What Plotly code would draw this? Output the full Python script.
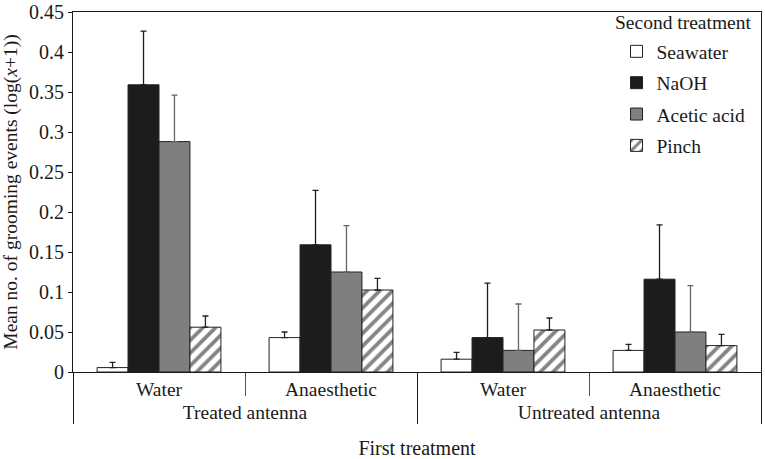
import plotly.graph_objects as go

# First treatment (two-level categories)
antenna = ["Treated antenna", "Treated antenna", "Untreated antenna", "Untreated antenna"]
first_treatment = ["Water", "Anaesthetic", "Water", "Anaesthetic"]

# Mean grooming events (log(x+1)) and top of the error bar for each second treatment
seawater = [0.0055, 0.043, 0.016, 0.027]
seawater_top = [0.012, 0.050, 0.0245, 0.0345]
naoh = [0.359, 0.159, 0.043, 0.116]
naoh_top = [0.426, 0.227, 0.111, 0.184]
acetic = [0.288, 0.125, 0.027, 0.050]
acetic_top = [0.346, 0.183, 0.085, 0.108]
pinch = [0.056, 0.1025, 0.0525, 0.033]
pinch_top = [0.070, 0.117, 0.0675, 0.047]

FONT = "Liberation Serif"
OUTLINE = "#222222"

series = [
    ("Seawater", seawater, seawater_top, "white", None, "#222222"),
    ("NaOH", naoh, naoh_top, "#1c1c1c", None, "#1c1c1c"),
    ("Acetic acid", acetic, acetic_top, "#7f7f7f", None, "#666666"),
    ("Pinch", pinch, pinch_top, "white", "/", "#222222"),
]

fig = go.Figure()
for name, vals, tops, fill, hatch, errcol in series:
    marker = dict(color=fill, line=dict(color=OUTLINE, width=1))
    if hatch:
        marker["pattern"] = dict(shape=hatch, fgcolor="#0a0a0a", bgcolor="white",
                                 size=9, solidity=0.42)
    fig.add_trace(go.Bar(
        x=[antenna, first_treatment],
        y=vals,
        name=name,
        legendgroup=name,
        marker=marker,
        error_y=dict(type="data", symmetric=False,
                     array=[t - v for t, v in zip(tops, vals)],
                     arrayminus=[0] * len(vals),
                     color=errcol, thickness=1.3, width=3),
    ))

fig.update_layout(
    width=765, height=459,
    barmode="group", bargap=0.28, bargroupgap=0,
    plot_bgcolor="white", paper_bgcolor="white",
    margin=dict(l=73, r=4, t=12, b=87),
    font=dict(family=FONT, size=19, color="#1a1a1a"),
    showlegend=True,
    legend=dict(x=0.79, y=0.944, xanchor="left", yanchor="top",
                tracegroupgap=3, font=dict(size=19.5), bgcolor="rgba(0,0,0,0)"),
    annotations=[dict(text="Second treatment", xref="paper", yref="paper",
                      x=0.988, y=1.006, xanchor="right", yanchor="top",
                      showarrow=False, font=dict(size=19.5))],
)
fig.update_xaxes(
    type="multicategory", automargin=False,
    showline=True, linecolor="#1a1a1a", linewidth=1, mirror=True,
    ticks="outside", ticklen=23, tickcolor="#555555", tickson="boundaries",
    tickfont=dict(size=19.5),
    dividercolor="#1a1a1a", dividerwidth=1,
    showgrid=False,
    title=dict(text="First treatment", standoff=18, font=dict(size=20)),
)
fig.update_yaxes(
    range=[0, 0.45], dtick=0.05, automargin=False,
    showline=True, linecolor="#1a1a1a", linewidth=1, mirror=True,
    ticks="outside", ticklen=4, tickcolor="#1a1a1a",
    showgrid=False, zeroline=False,
    tickfont=dict(size=20),
    title=dict(text="Mean no. of grooming events (log(<i>x</i>+1))",
               standoff=6, font=dict(size=19.5)),
)

# drop the browser's default body margin so the figure sits at the window corner
fig.write_html("out.html", config={"displayModeBar": False},
               post_script="document.body.style.margin='0';")
